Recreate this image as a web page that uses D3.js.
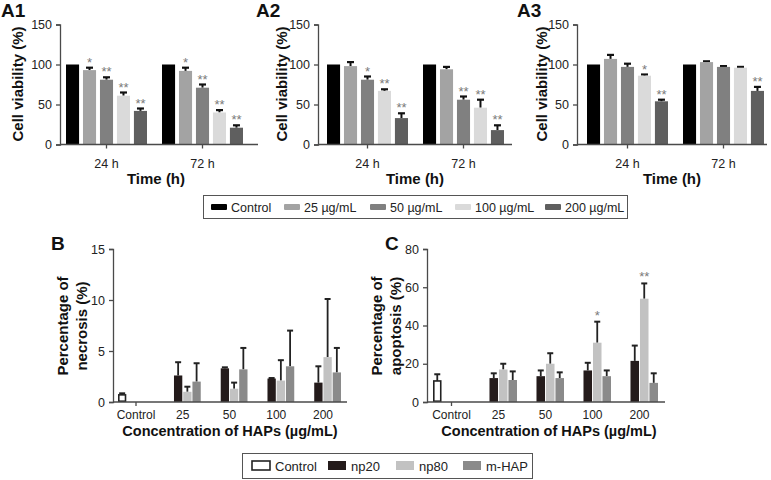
<!DOCTYPE html>
<html>
<head>
<meta charset="utf-8">
<script src="https://cdn.jsdelivr.net/npm/d3@7"></script>
<style>
body{margin:0;background:#fff;}
svg{font-family:"Liberation Sans",Arial,Helvetica,sans-serif;}
</style>
</head>
<body>
<svg id="chart" width="771" height="480"></svg>
<script>
// ---------- DATA ----------
const timeCats = ["24 h", "72 h"];
const doseSeries = ["Control", "25 µg/mL", "50 µg/mL", "100 µg/mL", "200 µg/mL"];
const doseColors = ["#000000", "#a3a3a3", "#808080", "#dadada", "#5f5f5f"];
const viabilityTicks = [0, 50, 100, 150];

const a1Values = [[100, 93, 81, 61, 42], [100, 92, 71, 40, 21]];
const a1Errors = [[0, 3, 3, 4, 3], [0, 4, 4, 3, 3]];
const a1Stars  = [["", "*", "**", "**", "**"], ["", "*", "**", "**", "**"]];

const a2Values = [[100, 98, 81, 67, 33], [100, 94, 56, 46, 18]];
const a2Errors = [[0, 5, 4, 2, 6], [0, 3, 4, 10, 6]];
const a2Stars  = [["", "", "*", "**", "**"], ["", "", "**", "**", "**"]];

const a3Values = [[100, 107, 97, 86, 54], [100, 103, 97, 96, 67]];
const a3Errors = [[0, 5, 4, 1.5, 2], [0, 1, 1, 1, 5]];
const a3Stars  = [["", "", "", "*", "**"], ["", "", "", "", "**"]];

const concCats = ["Control", "25", "50", "100", "200"];
const hapSeries = ["Control", "np20", "np80", "m-HAP"];
const hapFills = ["#ffffff", "#241b1b", "#c2c2c2", "#8a8a8a"];

// values per category, per series (null = not present)
const necrosisValues = [[0.7, null, null, null], [null, 2.6, 1.0, 2.0], [null, 3.3, 1.3, 3.2], [null, 2.3, 2.1, 3.5], [null, 1.9, 4.4, 2.9]];
const necrosisErrors = [[0.15, 0, 0, 0], [0, 1.3, 0.5, 1.8], [0, 0.1, 0.6, 2.1], [0, 0.05, 2.0, 3.5], [0, 1.6, 5.7, 2.4]];
const necrosisTicks = [0, 5, 10, 15];

const apoptosisValues = [[11, null, null, null], [null, 12.5, 17, 11.5], [null, 13.5, 20, 12.5], [null, 16.5, 31, 13.5], [null, 21.5, 54, 10]];
const apoptosisErrors = [[3.5, 0, 0, 0], [0, 2.5, 3, 4.5], [0, 3, 5.5, 3], [0, 4, 11, 3], [0, 8, 8, 5]];
const apoptosisStars = [["", "", "", ""], ["", "", "", ""], ["", "", "", ""], ["", "", "*", ""], ["", "", "**", ""]];
const apoptosisTicks = [0, 20, 40, 60, 80];

// ---------- DRAW ----------
const svg = d3.select("#chart");
const axisColor = "#4a4a4a";
const textColor = "#222";

function styleAxis(g) {
  g.selectAll("path,line").attr("stroke", axisColor).attr("stroke-width", 1.3);
  g.selectAll("text").attr("fill", textColor).attr("font-size", 12);
}

function viabilityPanel(p) {
  const g = svg.append("g");
  const y = d3.scaleLinear().domain([0, 150]).range([144.5, 24.5]);
  const x0 = d3.scaleBand().domain(timeCats).range([p.gx, p.gx + 96 + 81]).paddingInner(15 / 96).paddingOuter(0);
  const x1 = d3.scaleBand().domain(doseSeries).range([0, x0.bandwidth()]).paddingInner(0.23).paddingOuter(0);

  const ya = g.append("g").attr("transform", `translate(${p.ax},0)`)
    .call(d3.axisLeft(y).tickValues(viabilityTicks).tickSize(4).tickPadding(4));
  styleAxis(ya);
  ya.selectAll("text").attr("font-size", 12.5);

  timeCats.forEach((c, i) => {
    doseSeries.forEach((s, j) => {
      const v = p.values[i][j], e = p.errors[i][j];
      const bx = x0(c) + x1(s), bw = x1.bandwidth();
      if (e > 0) {
        g.append("line").attr("x1", bx + bw / 2).attr("x2", bx + bw / 2)
          .attr("y1", y(v)).attr("y2", y(v + e)).attr("stroke", "#111").attr("stroke-width", 2);
        g.append("line").attr("x1", bx + bw / 2 - 3.5).attr("x2", bx + bw / 2 + 3.5)
          .attr("y1", y(v + e)).attr("y2", y(v + e)).attr("stroke", "#111").attr("stroke-width", 2.2);
      }
      g.append("rect").attr("x", bx).attr("width", bw)
        .attr("y", y(v)).attr("height", y(0) - y(v)).attr("fill", doseColors[j]);
      const st = p.stars[i][j];
      if (st) {
        g.append("text").attr("x", bx + bw / 2).attr("y", y(v + e) - 1)
          .attr("text-anchor", "middle").attr("font-size", 13).attr("fill", "#7a7a7a").text(st);
      }
    });
  });

  g.append("line").attr("x1", p.ax).attr("x2", p.axEnd).attr("y1", y(0)).attr("y2", y(0))
    .attr("stroke", axisColor).attr("stroke-width", 1.3);
  timeCats.forEach(c => {
    const cx = x0(c) + x0.bandwidth() / 2;
    g.append("line").attr("x1", cx).attr("x2", cx).attr("y1", y(0)).attr("y2", y(0) + 4)
      .attr("stroke", axisColor).attr("stroke-width", 1.3);
    g.append("text").attr("x", cx).attr("y", 168).attr("text-anchor", "middle")
      .attr("font-size", 12.5).attr("fill", textColor).text(c);
  });

  g.append("text").attr("x", p.titleX).attr("y", 184).attr("text-anchor", "middle")
    .attr("font-size", 15).attr("font-weight", "bold").attr("fill", "#111").text("Time (h)");
  g.append("text").attr("transform", `translate(${p.ytX},84) rotate(-90)`).attr("text-anchor", "middle")
    .attr("font-size", 15).attr("font-weight", "bold").attr("fill", "#111").text("Cell viability (%)");
  g.append("text").attr("x", p.labX).attr("y", 17).attr("font-size", 19).attr("font-weight", "bold")
    .attr("fill", "#111").text(p.label);
}

viabilityPanel({label: "A1", labX: 1, ax: 60, axEnd: 258, gx: 66, titleX: 156, ytX: 23, values: a1Values, errors: a1Errors, stars: a1Stars});
viabilityPanel({label: "A2", labX: 256, ax: 318, axEnd: 512, gx: 327, titleX: 415, ytX: 287, values: a2Values, errors: a2Errors, stars: a2Stars});
viabilityPanel({label: "A3", labX: 517, ax: 577, axEnd: 767, gx: 587, titleX: 672, ytX: 547, values: a3Values, errors: a3Errors, stars: a3Stars});

// legend 1
(function () {
  const g = svg.append("g");
  g.append("rect").attr("x", 203.5).attr("y", 195.5).attr("width", 424).attr("height", 23)
    .attr("fill", "#fff").attr("stroke", "#555").attr("stroke-width", 1);
  const xs = [211, 284, 370, 455, 545];
  doseSeries.forEach((s, j) => {
    g.append("rect").attr("x", xs[j]).attr("y", 204).attr("width", 16).attr("height", 6)
      .attr("fill", doseColors[j]).attr("rx", 1);
    g.append("text").attr("x", xs[j] + 20).attr("y", 211.5).attr("font-size", 12.5)
      .attr("fill", textColor).text(s);
  });
})();

function hapPanel(p) {
  const g = svg.append("g");
  const y = d3.scaleLinear().domain([0, p.max]).range([402, 249]);
  const x0 = d3.scaleBand().domain(concCats).range([p.gx, p.gx + 4 * p.step + p.gw])
    .paddingInner((p.step - p.gw) / p.step).paddingOuter(0);
  const x1 = d3.scaleBand().domain(hapSeries).range([0, x0.bandwidth()]).paddingInner(0.1).paddingOuter(0);

  const ya = g.append("g").attr("transform", `translate(${p.ax},0)`)
    .call(d3.axisLeft(y).tickValues(p.ticks).tickSize(4).tickPadding(4));
  styleAxis(ya);
  ya.selectAll("text").attr("font-size", 12.5);

  concCats.forEach((c, i) => {
    hapSeries.forEach((s, j) => {
      const v = p.values[i][j];
      if (v === null) return;
      const e = p.errors[i][j];
      const bx = x0(c) + x1(s), bw = x1.bandwidth();
      if (e > 0) {
        g.append("line").attr("x1", bx + bw / 2).attr("x2", bx + bw / 2)
          .attr("y1", y(v)).attr("y2", y(v + e)).attr("stroke", "#222").attr("stroke-width", 1.8);
        g.append("line").attr("x1", bx + bw / 2 - 3).attr("x2", bx + bw / 2 + 3)
          .attr("y1", y(v + e)).attr("y2", y(v + e)).attr("stroke", "#222").attr("stroke-width", 2);
      }
      const r = g.append("rect").attr("x", bx).attr("width", bw)
        .attr("y", y(v)).attr("height", y(0) - y(v)).attr("fill", hapFills[j]);
      if (j === 0) r.attr("stroke", "#222").attr("stroke-width", 1.6)
        .attr("x", bx + 0.8).attr("width", bw - 1.6).attr("height", y(0) - y(v) - 0.8);
      const st = p.stars ? p.stars[i][j] : "";
      if (st) {
        g.append("text").attr("x", bx + bw / 2).attr("y", y(v + e) - 2)
          .attr("text-anchor", "middle").attr("font-size", 13).attr("fill", "#7a7a7a").text(st);
      }
    });
  });

  g.append("line").attr("x1", p.ax).attr("x2", p.axEnd).attr("y1", y(0)).attr("y2", y(0))
    .attr("stroke", axisColor).attr("stroke-width", 1.3);
  concCats.forEach((c, i) => {
    const cx = x0(c) + x0.bandwidth() / 2;
    if (i === 0) g.append("line").attr("x1", cx).attr("x2", cx).attr("y1", y(0)).attr("y2", y(0) + 4)
      .attr("stroke", axisColor).attr("stroke-width", 1.3);
    g.append("text").attr("x", cx).attr("y", 419).attr("text-anchor", "middle")
      .attr("font-size", 12).attr("fill", textColor).text(c);
  });

  g.append("text").attr("x", p.titleX).attr("y", 436).attr("text-anchor", "middle")
    .attr("font-size", 14.5).attr("font-weight", "bold").attr("fill", "#111").text("Concentration of HAPs (µg/mL)");
  const t = g.append("text").attr("transform", `translate(${p.ytX},326) rotate(-90)`).attr("text-anchor", "middle")
    .attr("font-size", 15).attr("font-weight", "bold").attr("fill", "#111");
  t.append("tspan").attr("x", 0).attr("y", 0).text("Percentage of");
  t.append("tspan").attr("x", 0).attr("y", 19).text(p.ytitle);
  g.append("text").attr("x", p.labX).attr("y", 250).attr("font-size", 19).attr("font-weight", "bold")
    .attr("fill", "#111").text(p.label);
}

hapPanel({label: "B", labX: 51, ax: 113, axEnd: 347, gx: 118, step: 46.75, gw: 36, max: 15, ticks: necrosisTicks,
  values: necrosisValues, errors: necrosisErrors, stars: null, titleX: 230, ytX: 68, ytitle: "necrosis (%)"});
hapPanel({label: "C", labX: 385, ax: 427, axEnd: 665, gx: 433, step: 47, gw: 37, max: 80, ticks: apoptosisTicks,
  values: apoptosisValues, errors: apoptosisErrors, stars: apoptosisStars, titleX: 549, ytX: 382, ytitle: "apoptosis (%)"});

// legend 2
(function () {
  const g = svg.append("g");
  g.append("rect").attr("x", 242.5).attr("y", 453.5).attr("width", 290).attr("height", 25)
    .attr("fill", "#fff").attr("stroke", "#555").attr("stroke-width", 1);
  const xs = [252, 328, 396, 463];
  hapSeries.forEach((s, j) => {
    const r = g.append("rect").attr("x", xs[j]).attr("y", 461).attr("width", 18).attr("height", 9)
      .attr("fill", hapFills[j]);
    if (j === 0) r.attr("stroke", "#222").attr("stroke-width", 1.6);
    g.append("text").attr("x", xs[j] + 23).attr("y", 470.5).attr("font-size", 13)
      .attr("fill", textColor).text(s);
  });
})();
</script>
</body>
</html>
